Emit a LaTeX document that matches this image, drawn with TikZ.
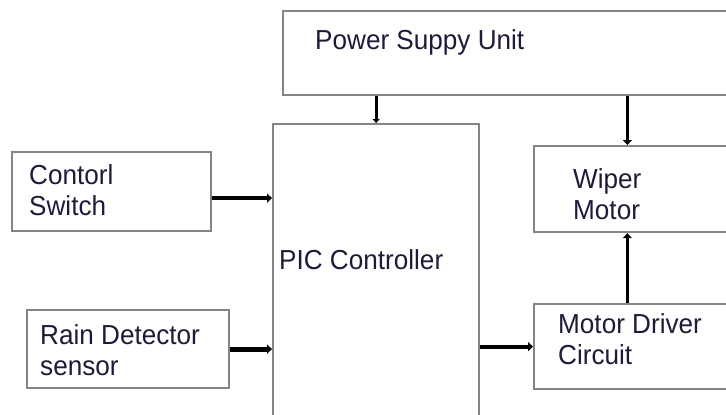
\documentclass[tikz,border=0pt]{standalone}
\usepackage{fontspec}
\newfontfamily\labelfont[FakeStretch=0.95]{Liberation Sans}
\usetikzlibrary{arrows.meta,calc}
\definecolor{boxgray}{HTML}{858585}
\definecolor{inkdark}{HTML}{1C1C3A}
\begin{document}
\begin{tikzpicture}[x=1pt,y=-1pt,
  blockbox/.style={draw=boxgray,line width=2.2pt,fill=white,inner sep=0pt,anchor=north west},
  lbl/.style={anchor=base west,inner sep=0pt,text=inkdark,align=left,
    font=\labelfont\fontsize{27.5}{30.5}\selectfont},
  conn/.style={draw=black,line width=3.8pt,-{Triangle[length=5pt,width=9pt]}},
  thinconn/.style={draw=black,line width=2.8pt,-{Triangle[length=4pt,width=7pt]}}]
\useasboundingbox (0,0) rectangle (726,415);
\clip (0,0) rectangle (726,415);
\fill[white] (0,0) rectangle (726,415);
% blocks
\node[blockbox,minimum width=480pt,minimum height=84pt] (psu) at (282,10) {};
\node[blockbox,minimum width=206pt,minimum height=330pt] (pic) at (272,123) {};
\node[blockbox,minimum width=199pt,minimum height=79pt] (sw) at (11,151) {};
\node[blockbox,minimum width=202pt,minimum height=78pt] (rain) at (26,309) {};
\node[blockbox,minimum width=220pt,minimum height=86pt] (wiper) at (533,145) {};
\node[blockbox,minimum width=220pt,minimum height=85pt] (driver) at (533,303) {};
% labels (base anchor = baseline of the last line)
\node[lbl] (psuT) at (315,49) {Power Suppy Unit};
\node[lbl] (picT) at (279,269) {PIC Controller};
\node[lbl] (swT) at (29,215) {Contorl\\Switch};
\node[lbl] (rainT) at (40,375) {Rain Detector\\sensor};
\node[lbl] (wiperT) at (573,219) {Wiper\\Motor};
\node[lbl] (driverT) at (558,364) {Motor Driver\\Circuit};
% helper coordinates on box edges
\coordinate (wtap) at ($(wiper.north west)!0.425!(wiper.north east)$);
\coordinate (swtap) at ($(sw.north east)!0.58!(sw.south east)$);
% connectors
\draw[thinconn] (psu.south -| pic.north) -- (pic.north);
\draw[conn] (psu.south -| wtap) -- (wtap);
\draw[conn] (swtap) -- (swtap -| pic.west);
\draw[conn,line width=4.8pt] (rain.east) -- (rain.east -| pic.west);
\draw[conn] (pic.east |- driver.west) -- (driver.west);
\draw[conn] (driver.north -| wtap) -- (wiper.south -| wtap);
\end{tikzpicture}
\end{document}
